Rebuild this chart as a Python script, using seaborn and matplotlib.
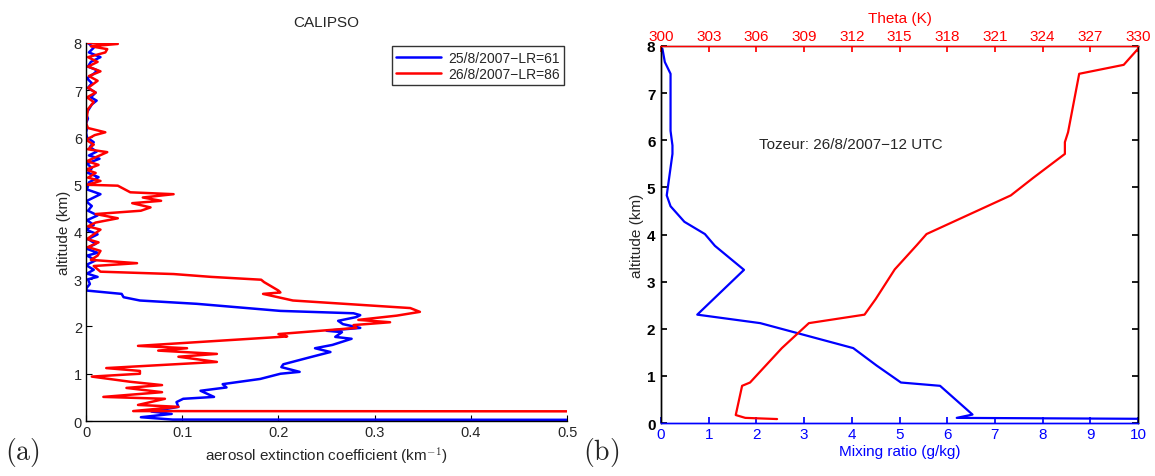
import matplotlib
matplotlib.use("Agg")
import matplotlib.pyplot as plt
import seaborn as sns
import pandas as pd

# ---- panel (a): CALIPSO extinction profiles (altitude km, extinction km-1)
alt_25 = [0.02, 0.03, 0.08, 0.15, 0.2, 0.3, 0.4, 0.47, 0.51, 0.64, 0.71, 0.78, 0.89, 1.0, 1.04,
          1.14, 1.2, 1.35, 1.46, 1.54, 1.61, 1.74, 1.78, 1.88, 1.91, 1.97, 2.05, 2.12, 2.2, 2.24,
          2.28, 2.33, 2.48, 2.55, 2.62, 2.69, 2.76, 2.8, 2.9, 3.0, 3.05, 3.12, 3.2, 3.3, 3.4, 3.5,
          3.56, 3.65, 3.75, 3.85, 3.95, 4.05, 4.15, 4.25, 4.35, 4.45, 4.55, 4.65, 4.8, 4.9, 5.05,
          5.16, 5.25, 5.35, 5.45, 5.55, 5.62, 5.7, 5.8, 5.9, 6.0, 6.1, 6.2, 6.3, 6.4, 6.5, 6.6,
          6.7, 6.78, 6.85, 6.95, 7.05, 7.15, 7.25, 7.35, 7.42, 7.5, 7.6, 7.7, 7.8, 7.9, 8.0]
ext_25 = [0.9, 0.09, 0.057, 0.089, 0.068, 0.096, 0.094, 0.101, 0.133, 0.119, 0.146, 0.142, 0.181,
          0.202, 0.222, 0.203, 0.205, 0.233, 0.254, 0.238, 0.256, 0.276, 0.259, 0.266, 0.25, 0.285,
          0.267, 0.262, 0.281, 0.285, 0.278, 0.202, 0.115, 0.056, 0.039, 0.037, 0.001, 0.0, 0.004,
          0.002, 0.012, 0.001, 0.008, 0.0, 0.01, 0.001, 0.012, 0.0, 0.01, 0.002, 0.012, 0.0, 0.008,
          0.001, 0.012, 0.002, 0.006, 0.0, 0.015, 0.001, 0.003, 0.013, 0.002, 0.006, 0.001, 0.014,
          0.003, 0.011, 0.004, 0.008, 0.001, 0.0, 0.001, 0.0, 0.002, 0.0, 0.003, 0.006, 0.011,
          0.005, 0.01, 0.002, 0.006, 0.001, 0.008, 0.012, 0.002, 0.005, 0.015, 0.003, 0.008, 0.002]

alt_26 = [0.2, 0.21, 0.3, 0.34, 0.47, 0.51, 0.61, 0.7, 0.76, 0.83, 0.94, 1.0, 1.06, 1.12, 1.25,
          1.36, 1.42, 1.49, 1.54, 1.59, 1.78, 1.79, 1.84, 1.97, 2.03, 2.09, 2.14, 2.23, 2.31, 2.39,
          2.55, 2.69, 2.72, 2.76, 2.94, 2.99, 3.05, 3.11, 3.16, 3.28, 3.34, 3.41, 3.5, 3.6, 3.68,
          3.78, 3.85, 3.95, 4.05, 4.12, 4.2, 4.29, 4.38, 4.45, 4.52, 4.61, 4.66, 4.73, 4.8, 4.84,
          4.98, 5.0, 5.08, 5.15, 5.25, 5.32, 5.42, 5.5, 5.6, 5.69, 5.75, 5.85, 5.95, 6.05, 6.11,
          6.2, 6.3, 6.45, 6.6, 6.75, 6.85, 6.95, 7.05, 7.2, 7.3, 7.4, 7.5, 7.6, 7.7, 7.8, 7.87,
          7.93, 7.98, 8.0]
ext_26 = [0.9, 0.049, 0.096, 0.054, 0.082, 0.018, 0.079, 0.042, 0.079, 0.046, 0.006, 0.056, 0.056,
          0.021, 0.136, 0.096, 0.136, 0.075, 0.105, 0.054, 0.202, 0.209, 0.2, 0.281, 0.278, 0.316,
          0.283, 0.323, 0.347, 0.337, 0.215, 0.184, 0.202, 0.2, 0.185, 0.182, 0.13, 0.091, 0.015,
          0.008, 0.053, 0.005, 0.012, 0.015, 0.002, 0.013, 0.001, 0.008, 0.015, 0.002, 0.01, 0.033,
          0.01, 0.057, 0.067, 0.048, 0.078, 0.059, 0.091, 0.046, 0.033, 0.001, 0.015, 0.002, 0.01,
          0.0, 0.013, 0.001, 0.012, 0.022, 0.002, 0.008, 0.0, 0.009, 0.02, 0.002, 0.0, 0.001, 0.002,
          0.008, 0.001, 0.01, 0.002, 0.012, 0.003, 0.015, 0.002, 0.012, 0.002, 0.02, 0.022, 0.005,
          0.033, 0.0]

# ---- panel (b): Tozeur radiosounding
alt_q = [0.08, 0.11, 0.18, 0.79, 0.86, 1.22, 1.59, 2.12, 2.3, 3.25, 3.76, 4.01, 4.27, 4.6, 4.83,
         5.71, 5.89, 6.2, 7.41, 7.66, 7.94]
mix_q = [12.0, 6.2, 6.53, 5.85, 5.03, 4.52, 4.03, 2.08, 0.76, 1.74, 1.13, 0.92, 0.49, 0.2, 0.12,
         0.24, 0.24, 0.2, 0.2, 0.08, 0.03]

alt_th = [0.085, 0.11, 0.17, 0.79, 0.86, 1.59, 2.12, 2.3, 2.63, 3.26, 3.78, 4.01, 4.83, 5.2,
          5.71, 5.96, 6.17, 7.41, 7.6, 7.94]
theta = [307.3, 305.3, 304.7, 305.1, 305.6, 307.6, 309.3, 312.8, 313.5, 314.7, 316.1, 316.7,
         322.0, 323.4, 325.4, 325.4, 325.6, 326.3, 329.1, 330.0]

theta_ticks = list(range(300, 331, 3))
BLUE = "#0000ff"
RED = "#ff0000"

sns.set_theme(style="white")
plt.rcParams['font.family'] = ['Liberation Sans', 'DejaVu Sans']
plt.rcParams['mathtext.fontset'] = 'cm'
plt.rcParams['axes.linewidth'] = 1.0
plt.rcParams['xtick.direction'] = 'in'
plt.rcParams['ytick.direction'] = 'in'

fig = plt.figure(figsize=(11.55, 4.77), dpi=100)

# panel (a)
ax1 = fig.add_axes([0.0745, 0.1153, 0.4165, 0.7925])
df25 = pd.DataFrame({"ext": ext_25, "alt": alt_25})
df26 = pd.DataFrame({"ext": ext_26, "alt": alt_26})
sns.lineplot(data=df25, x="ext", y="alt", sort=False, estimator=None, color=BLUE, lw=1.8,
             label="25/8/2007\u2212LR=61", ax=ax1)
sns.lineplot(data=df26, x="ext", y="alt", sort=False, estimator=None, color=RED, lw=1.8,
             label="26/8/2007\u2212LR=86", ax=ax1)
ax1.set_xlim(0, 0.5)
ax1.set_ylim(0, 8)
ax1.set_xticks([0, 0.1, 0.2, 0.3, 0.4, 0.5])
ax1.set_xticklabels(["0", "0.1", "0.2", "0.3", "0.4", "0.5"])
ax1.set_yticks(range(0, 9))
for s in ["top", "right"]:
    ax1.spines[s].set_visible(False)
for s in ["left", "bottom"]:
    ax1.spines[s].set_color("black")
ax1.tick_params(axis="both", which="both", length=4, width=0.8, color="black",
                labelsize=10.5, bottom=True, left=True, pad=3)
ax1.set_xlabel("aerosol extinction coefficient (km$^{-1}$)", fontsize=11, labelpad=4)
ax1.set_ylabel("altitude (km)", fontsize=11, labelpad=2)
ax1.set_title("CALIPSO", fontsize=11, pad=12)
leg = ax1.legend(loc="upper right", fontsize=10, frameon=True, fancybox=False,
                 edgecolor="black", borderaxespad=0.25, handlelength=3.2,
                 borderpad=0.3, labelspacing=0.15, handletextpad=0.5)
leg.get_frame().set_linewidth(1.0)
ax1.set_facecolor("white")

# panel (b)
ax2 = fig.add_axes([0.5723, 0.111, 0.413, 0.7905])
dfq = pd.DataFrame({"mix": mix_q, "alt": alt_q})
sns.lineplot(data=dfq, x="mix", y="alt", sort=False, estimator=None, color=BLUE, lw=1.6, ax=ax2)
ax2.set_xlim(0, 10)
ax2.set_ylim(0, 8)
ax2.set_xticks(range(0, 11))
ax2.set_yticks(range(0, 9))
ax2.set_xlabel("Mixing ratio (g/kg)", color=BLUE, fontsize=11, labelpad=2)
ax2.set_ylabel("altitude (km)", fontsize=11, labelpad=2)
ax2.tick_params(axis="x", colors=BLUE, labelsize=11, length=4, bottom=True, pad=3)
ax2.tick_params(axis="y", colors="black", labelsize=11, length=4, left=True, right=True, pad=4)
for lab in ax2.get_yticklabels():
    lab.set_fontweight("bold")
ax2.spines["bottom"].set_color(BLUE)
ax2.spines["left"].set_color("black")
ax2.spines["right"].set_color("black")
ax2.text(2.05, 5.92, "Tozeur: 26/8/2007\u221212 UTC", fontsize=11, va="center", ha="left")

ax3 = ax2.twiny()
dft = pd.DataFrame({"theta": theta, "alt": alt_th})
sns.lineplot(data=dft, x="theta", y="alt", sort=False, estimator=None, color=RED, lw=1.6, ax=ax3)
ax3.set_xlim(300, 330)
ax3.set_ylim(0, 8)
ax3.set_xticks(theta_ticks)
ax3.set_xlabel("Theta (K)", color=RED, fontsize=11, labelpad=5)
ax3.set_ylabel("")
ax3.tick_params(axis="x", colors=RED, labelsize=11, length=4, top=True, pad=2)
ax3.spines["top"].set_color(RED)
ax3.spines["bottom"].set_color(BLUE)
ax3.spines["left"].set_color("black")
ax3.spines["right"].set_color("black")

# panel letters
fig.text(0.004, 0.035, r"$\mathrm{(a)}$", fontsize=20)
fig.text(0.505, 0.035, r"$\mathrm{(b)}$", fontsize=20)

fig.savefig("out.png", dpi=100, facecolor="white")
